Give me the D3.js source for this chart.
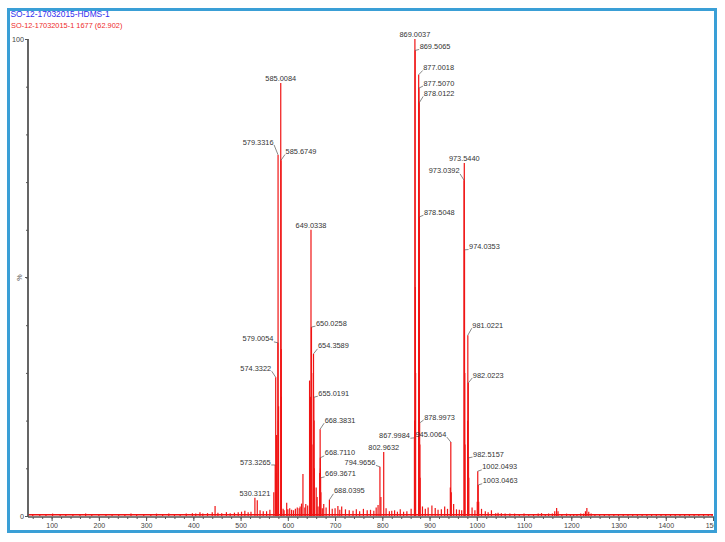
<!DOCTYPE html>
<html><head><meta charset="utf-8">
<script src="https://cdn.jsdelivr.net/npm/d3@7"></script>
<style>html,body{margin:0;padding:0;background:#fff;}svg{display:block;}</style>
</head><body>
<svg id="chart" width="725" height="542"></svg>
<script>
// ---- data ----
const titleText = "SO-12-17032015-HDMS-1";
const subtitleText = "SO-12-17032015-1 1677 (62.902)";
const yAxisTitle = "%";

// labelled peaks (m/z, relative intensity %)
const peakMz = [530.3121, 573.3265, 574.3322, 579.0054, 579.3316, 585.0084, 585.6749,
  649.0338, 650.0258, 654.3589, 655.0191, 668.3831, 668.7110, 669.3671, 688.0395,
  794.9656, 802.9632, 867.9984, 869.0037, 869.5065, 877.0018, 877.5070, 878.0122,
  878.5048, 878.9973, 945.0064, 973.0392, 973.5440, 974.0353, 981.0221, 982.0223,
  982.5157, 1002.0493, 1003.0463];
const peakInt = [3.8, 10.7, 29.1, 36.3, 75.7, 90.8, 74.6,
  60.0, 39.6, 34.0, 24.9, 18.2, 12.2, 8.0, 3.4,
  10.3, 13.4, 16.4, 100, 97.6, 92.5, 89.7, 86.6,
  62.7, 19.5, 15.5, 70.4, 74.0, 55.8, 37.9, 27.9,
  12.2, 9.4, 6.5];

// unlabelled larger signals
const minorMz = [535.3, 541.2, 570.3, 575.3, 576.3, 580.0, 580.4, 586.0, 586.4, 590.0, 597.6,
  604.0, 620.0, 626.0, 632.0, 638.0, 646.0, 647.0, 648.0, 650.5, 651.0, 655.5, 656.0, 660.0,
  662.0, 667.4, 669.0, 670.0, 676.0, 706.0, 714.0, 791.0, 797.0, 868.5, 870.0, 870.5, 879.5,
  880.0, 944.0, 946.0, 951.0, 974.5, 975.0, 980.5, 983.0, 1001.0, 1004.0, 1031.0, 1165.0,
  1169.0, 1172.0, 1230.0, 1233.0, 1237.0, 446.0];
const minorInt = [3.3, 1.2, 5.0, 9.0, 17.0, 20.0, 23.0, 35.0, 25.0, 1.5, 2.8,
  1.6, 1.8, 2.0, 8.8, 2.5, 28.4, 20.5, 25.0, 30.0, 15.0, 20.0, 10.0, 6.0,
  4.0, 9.0, 10.0, 5.0, 2.5, 2.1, 2.0, 2.3, 4.0, 20.0, 48.0, 30.0, 15.0,
  8.0, 6.0, 5.0, 2.5, 30.0, 15.0, 20.0, 8.0, 3.0, 3.0, 1.2, 1.0,
  1.7, 1.0, 1.0, 1.7, 0.9, 2.1];

// baseline noise
const noiseMz = [60, 75, 88, 102, 118, 130, 145, 160, 172, 185, 200, 215, 228, 242, 255, 268,
  280, 295, 310, 322, 335, 348, 360, 372, 385, 398, 405, 414, 420, 430, 440, 452, 460, 470,
  478, 487, 495, 502, 509, 516, 522, 548, 555, 562, 592, 600, 608, 612, 616, 624, 629, 636,
  642, 664, 673, 681, 694, 700, 710, 722, 730, 738, 745, 752, 760, 768, 775, 782, 787, 808,
  815, 820, 826, 832, 838, 845, 852, 861, 885, 891, 897, 905, 912, 918, 925, 932, 938, 957,
  963, 968, 990, 996, 1010, 1018, 1024, 1040, 1045, 1052, 1060, 1070, 1080, 1090, 1100, 1110,
  1120, 1130, 1137, 1145, 1152, 1160, 1180, 1190, 1198, 1205, 1212, 1220, 1226, 1242, 1250,
  1260, 1270, 1280, 1290, 1300, 1310, 1320, 1330, 1340, 1350, 1360, 1370, 1380, 1390, 1400,
  1410, 1420, 1430, 1440, 1450, 1460, 1470, 1480, 1490, 1498];
const noiseInt = [0.3, 0.4, 0.3, 0.5, 0.4, 0.3, 0.4, 0.3, 0.5, 0.4, 0.3, 0.4, 0.3, 0.4, 0.3, 0.5,
  0.4, 0.3, 0.4, 0.5, 0.4, 0.5, 0.4, 0.3, 0.5, 0.6, 0.5, 0.8, 0.5, 0.6, 0.8, 0.7, 0.6, 0.8,
  0.6, 0.7, 0.8, 0.9, 1.1, 0.8, 0.9, 1.0, 1.0, 1.3, 1.2, 1.4, 1.3, 1.2, 1.5, 1.6, 2.6, 1.8,
  2.2, 2.0, 1.6, 1.8, 1.5, 1.6, 1.3, 1.4, 1.2, 1.1, 1.4, 1.0, 1.5, 1.2, 1.3, 1.1, 1.8, 1.6,
  1.0, 1.1, 1.2, 0.9, 1.4, 0.9, 1.0, 1.5, 2.0, 1.5, 1.8, 2.2, 1.7, 1.3, 1.4, 2.0, 1.5, 1.4,
  1.3, 1.2, 1.8, 1.2, 1.5, 1.0, 0.8, 0.6, 0.7, 0.6, 0.5, 0.5, 0.5, 0.4, 0.5, 0.4,
  0.4, 0.5, 0.6, 0.4, 0.5, 0.5, 0.4, 0.5, 0.4, 0.4, 0.4, 0.5, 0.5, 0.5, 0.4,
  0.4, 0.4, 0.3, 0.4, 0.3, 0.3, 0.3, 0.4, 0.3, 0.3, 0.3, 0.3, 0.3, 0.3, 0.3,
  0.3, 0.3, 0.3, 0.3, 0.3, 0.3, 0.3, 0.3, 0.3, 0.3];

const xTickValues = [100, 200, 300, 400, 500, 600, 700, 800, 900, 1000, 1100, 1200, 1300, 1400, 1500];
const yTickValues = [0, 100];

// ---- layout (kept separate from data) ----
// side: c = centred above, r = right with leader, l = left with leader; dy = text centre offset (px)
const labelSide = ['c','l','l','l','l','c','r',
  'c','r','r','r','r','r','r','r',
  'l','c','l','c','r','r','r','r',
  'r','r','l','l','c','r','r','r',
  'r','r','r'];
const labelDy = [-5, -3, -9, -4, -13, -5, -8.7,
  -5, -4, -8, -4, -9, -5, -4, -9,
  -4.5, -5, -2.5, -5, -4, -7.3, -5, -9.5,
  -4.7, -6, -8, -9.3, -5, -3.3, -10, -8,
  -3.7, -4.3, -4.3];

const W = 725, H = 542;
const plot = {left: 28, right: 713, top: 39, bottom: 516};
const frame = {x: 8.5, y: 9.5, w: 707, h: 522};
const red = "#f01414";
const font = "'Liberation Sans', Arial, sans-serif";

const svg = d3.select("#chart");

// frame
svg.append("rect").attr("x", frame.x).attr("y", frame.y).attr("width", frame.w).attr("height", frame.h)
  .attr("fill", "#fff").attr("stroke", "#3a9fd6").attr("stroke-width", 3);

svg.append("defs").append("clipPath").attr("id", "clip")
  .append("rect").attr("x", frame.x + 1.5).attr("y", frame.y + 1.5).attr("width", frame.w - 3).attr("height", frame.h - 3);

// titles
svg.append("text").attr("x", 10.5).attr("y", 17).text(titleText)
  .attr("font-family", font).attr("font-size", 8.4).attr("fill", "#2f2fee");
svg.append("text").attr("x", 11).attr("y", 27.5).text(subtitleText)
  .attr("font-family", font).attr("font-size", 7.4).attr("fill", "#ee2a2a");

const x = d3.scaleLinear().domain([50, 1500]).range([plot.left, plot.right]);
const y = d3.scaleLinear().domain([0, 100]).range([plot.bottom, plot.top]);

const g = svg.append("g").attr("clip-path", "url(#clip)");

// spectrum sticks
const allPeaks = [];
noiseMz.forEach((m, i) => allPeaks.push({mz: m, v: noiseInt[i]}));
minorMz.forEach((m, i) => allPeaks.push({mz: m, v: minorInt[i]}));
peakMz.forEach((m, i) => allPeaks.push({mz: m, v: peakInt[i]}));

// baseline
g.append("line").attr("x1", x(50)).attr("x2", x(1500)).attr("y1", y(0.25)).attr("y2", y(0.25))
  .attr("stroke", red).attr("stroke-width", 1.6);

g.selectAll("line.pk").data(allPeaks).join("line").attr("class", "pk")
  .attr("x1", d => x(d.mz)).attr("x2", d => x(d.mz))
  .attr("y1", y(0)).attr("y2", d => y(d.v))
  .attr("stroke", red).attr("stroke-width", 1.2);

// axes
const axisColor = "#555";
const xAxis = d3.axisBottom(x).tickValues(d3.range(60, 1501, 20)).tickSize(2).tickFormat("");
const gx = g.append("g").attr("transform", `translate(0,${plot.bottom + 1})`).call(xAxis);
gx.select(".domain").remove();
gx.selectAll("line").attr("stroke", axisColor);
const xAxisMajor = d3.axisBottom(x).tickValues(xTickValues).tickSize(4).tickPadding(2).tickFormat(d3.format("d"));
const gx2 = g.append("g").attr("transform", `translate(0,${plot.bottom + 1})`).call(xAxisMajor);
gx2.select(".domain").remove();
gx2.selectAll("line").attr("stroke", axisColor);
gx2.selectAll("text").attr("font-family", font).attr("font-size", 7).attr("fill", "#444");

g.append("line").attr("x1", plot.left).attr("x2", plot.right + 2).attr("y1", plot.bottom + 1).attr("y2", plot.bottom + 1)
  .attr("stroke", axisColor).attr("stroke-width", 1.4);

const yMinor = d3.axisLeft(y).tickValues(d3.range(10, 100, 10)).tickSize(2).tickFormat("");
const gy = svg.append("g").attr("transform", `translate(${plot.left},0)`).call(yMinor);
gy.select(".domain").remove();
gy.selectAll("line").attr("stroke", axisColor);
const yMajor = d3.axisLeft(y).tickValues(yTickValues).tickSize(3).tickPadding(1).tickFormat(d3.format("d"));
const gy2 = svg.append("g").attr("transform", `translate(${plot.left},0)`).call(yMajor);
gy2.select(".domain").remove();
gy2.selectAll("line").attr("stroke", axisColor);
gy2.selectAll("text").attr("font-family", font).attr("font-size", 7.2).attr("fill", "#444");
svg.append("line").attr("x1", plot.left).attr("x2", plot.left).attr("y1", plot.top).attr("y2", plot.bottom + 1)
  .attr("stroke", axisColor).attr("stroke-width", 1.8);
svg.append("line").attr("x1", plot.left - 3).attr("x2", plot.left).attr("y1", y(50)).attr("y2", y(50))
  .attr("stroke", axisColor);
svg.append("text").attr("transform", `translate(${plot.left - 6},${y(50)}) rotate(-90)`)
  .attr("text-anchor", "middle").text(yAxisTitle)
  .attr("font-family", font).attr("font-size", 7.2).attr("fill", "#444");

// peak labels
const lg = svg.append("g");
peakMz.forEach((m, i) => {
  const px = x(m), py = y(peakInt[i]);
  const side = labelSide[i], dy = labelDy[i];
  const label = m.toFixed(4);
  const t = lg.append("text").text(label).attr("font-family", font).attr("font-size", 7.4).attr("fill", "#333");
  if (side === 'c') {
    t.attr("x", px).attr("y", py - 2.3).attr("text-anchor", "middle");
  } else {
    const sgn = side === 'r' ? 1 : -1;
    const tc = py + dy;
    t.attr("x", px + sgn * 4.5).attr("y", tc + 2.6).attr("text-anchor", side === 'r' ? "start" : "end");
    lg.append("line").attr("x1", px).attr("y1", py).attr("x2", px + sgn * 4).attr("y2", tc + 3)
      .attr("stroke", "#555").attr("stroke-width", 0.7);
  }
});
</script>
</body></html>
